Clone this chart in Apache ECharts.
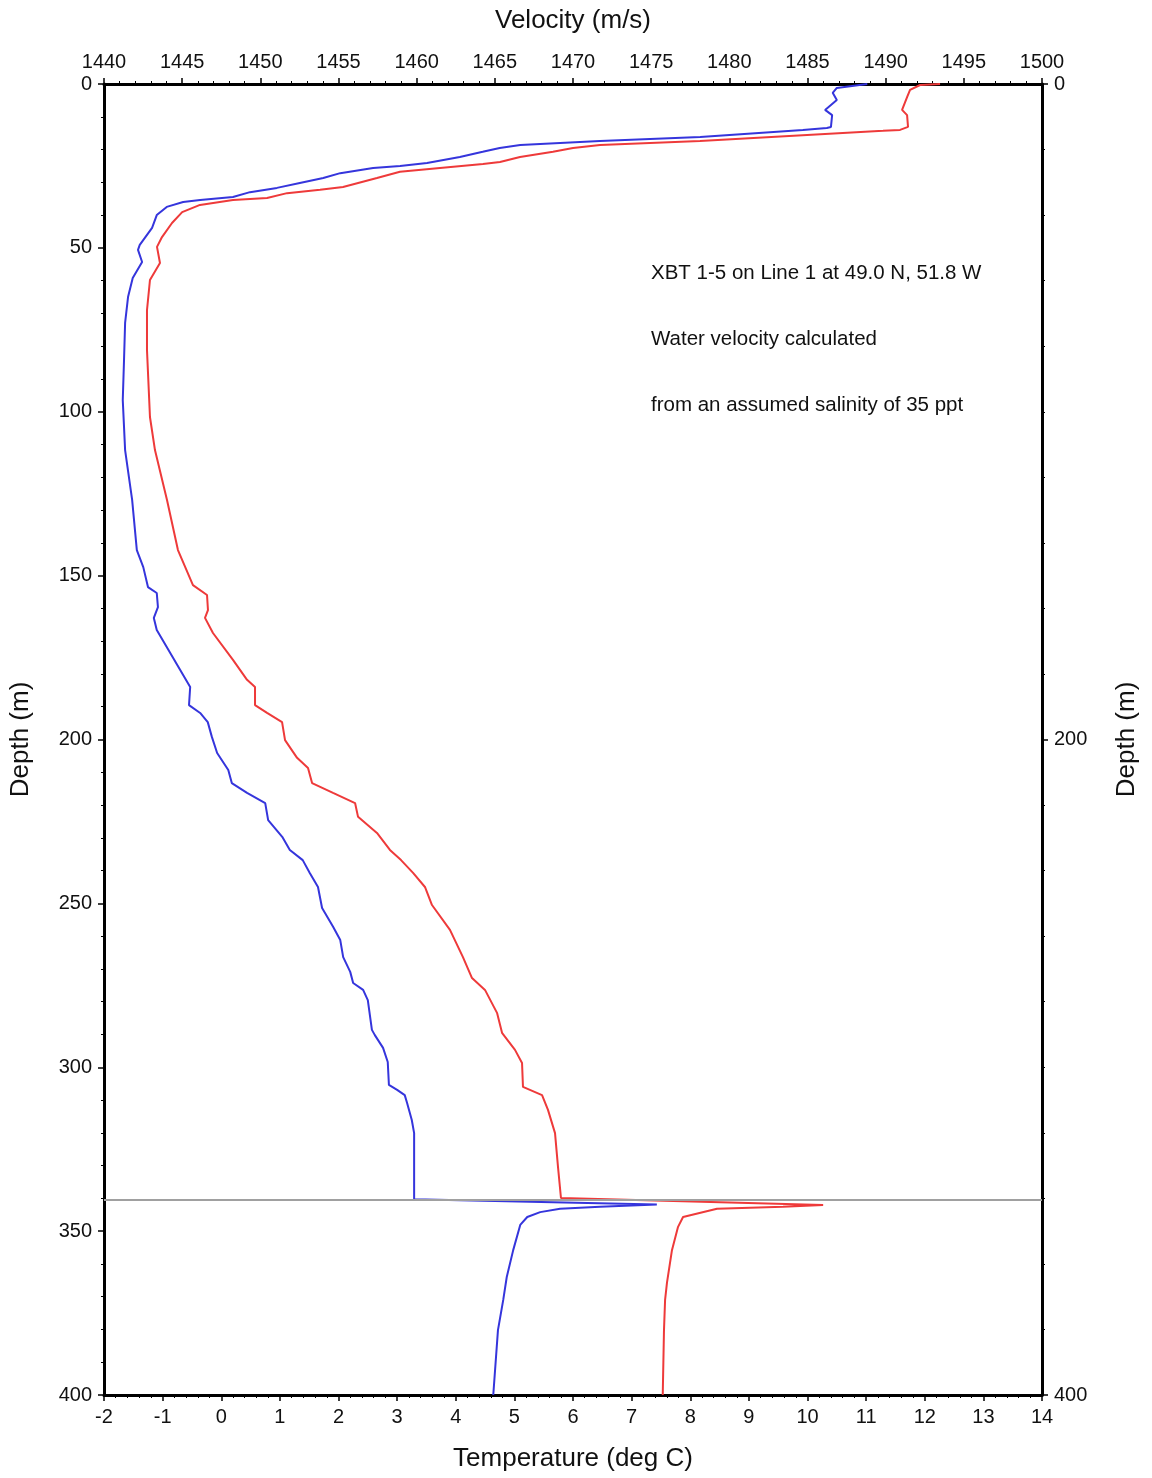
<!DOCTYPE html>
<html>
<head>
<meta charset="utf-8">
<title>XBT 1-5</title>
<script src="https://cdn.jsdelivr.net/npm/echarts@6/dist/echarts.min.js"></script>
<style>
  html, body { margin: 0; padding: 0; background: #fff; }
  #chart { width: 1152px; height: 1478px; }
</style>
</head>
<body>
<div id="chart"></div>
<script>
// temperature profile (blue, bottom axis)
const tempDepth = [0, 1.2, 2.7, 4.9, 7.9, 9.5, 13.1, 13.4, 14.0, 16.2, 17.4, 18.6, 19.5, 20.7, 22.3, 24.1, 25.0, 25.6,
  27.2, 28.7, 30.2, 31.7, 33.0, 34.5, 35.4, 36.0, 37.5, 40.0, 43.9, 49.1, 50.6, 54.3, 59.2, 65.0, 72.9, 85.1, 96.4,
  111.7, 126.9, 142.2, 147.4, 153.5, 155.3, 159.6, 162.9, 166.6, 173.6, 178.8, 184.0, 189.5, 191.9, 194.7, 199.2,
  204.1, 209.3, 213.3, 216.3, 219.4, 224.6, 229.7, 233.7, 236.8, 240.7, 245.0, 251.4, 257.2, 261.2, 266.4, 270.9,
  274.3, 276.4, 279.5, 288.6, 290.2, 294.1, 298.4, 305.4, 306.9, 308.5, 310.9, 316.1, 320.1, 327.4, 340.3, 341.9,
  342.6, 343.2, 344.2, 345.7, 348.1, 355.8, 364.0, 371.0, 380.2, 400]
const tempValues = [11.02, 10.50, 10.43, 10.50, 10.30, 10.42, 10.40, 10.33, 9.92, 8.17, 6.46, 5.10, 4.75, 4.46, 4.07, 3.51, 3.05, 2.59,
  2.03, 1.74, 1.34, 0.95, 0.49, 0.20, -0.36, -0.65, -0.93, -1.10, -1.18, -1.39, -1.42, -1.35, -1.51, -1.59, -1.64, -1.66, -1.68,
  -1.64, -1.52, -1.44, -1.33, -1.25, -1.10, -1.08, -1.15, -1.10, -0.87, -0.70, -0.53, -0.55, -0.36, -0.23, -0.16,
  -0.07, 0.12, 0.18, 0.44, 0.75, 0.80, 1.04, 1.17, 1.39, 1.51, 1.65, 1.72, 1.91, 2.03, 2.08, 2.20,
  2.25, 2.42, 2.50, 2.57, 2.62, 2.76, 2.84, 2.86, 3.00, 3.13, 3.17, 3.25, 3.29, 3.29, 3.29, 7.43,
  6.46, 5.78, 5.44, 5.22, 5.10, 4.98, 4.87, 4.81, 4.72, 4.64]

// sound velocity profile (red, top axis)
const velDepth = [0, 0.3, 1.8, 4.0, 7.9, 9.5, 13.1, 14.0, 14.3, 17.4, 18.6, 19.5, 20.7, 22.3, 23.8, 24.4, 25.6, 26.8,
  28.7, 31.4, 32.3, 33.3, 34.8, 35.4, 36.9, 39.1, 42.4, 46.7, 49.7, 54.6, 59.8, 69.0, 81.2, 101.6, 111.7, 126.9,
  142.2, 152.9, 155.9, 160.5, 162.9, 167.5, 175.7, 181.8, 184.0, 189.5, 191.9, 194.7, 200.2, 205.6, 208.7, 213.3,
  216.3, 219.4, 223.6, 228.5, 233.7, 236.8, 240.7, 245.0, 250.5, 258.1, 266.4, 272.8, 276.4, 283.4, 289.5, 294.7,
  298.7, 306.0, 308.5, 313.0, 320.1, 330.4, 339.9, 342.0, 342.6, 343.2, 345.7, 348.7, 355.8, 365.8, 371.0, 380.2, 400]
const velValues = [1493.48, 1492.2, 1491.56, 1491.37, 1491.05, 1491.37, 1491.43, 1490.92, 1489.83, 1478.12, 1471.73, 1470.0, 1468.72, 1466.61, 1465.33, 1464.24, 1461.49, 1458.93,
  1457.46, 1455.29, 1453.82, 1451.71, 1450.43, 1448.25, 1446.14, 1445.0, 1444.35, 1443.71, 1443.39, 1443.58, 1442.94, 1442.75, 1442.75, 1442.94, 1443.26, 1444.03,
  1444.73, 1445.69, 1446.59, 1446.65, 1446.46, 1446.97, 1448.25, 1449.15, 1449.66, 1449.66, 1450.43, 1451.39, 1451.58, 1452.35, 1453.05, 1453.31,
  1454.65, 1456.06, 1456.25, 1457.46, 1458.29, 1459.0, 1459.77, 1460.53, 1460.98, 1462.13, 1462.96, 1463.54, 1464.37, 1465.14, 1465.46, 1466.29,
  1466.74, 1466.80, 1468.02, 1468.40, 1468.85, 1469.04, 1469.23, 1486.0, 1483.43, 1479.21, 1477.04, 1476.72, 1476.33, 1476.01, 1475.89, 1475.82, 1475.74]

const launchDepth = 340.5
const notes = ['XBT 1-5 on Line 1 at 49.0 N, 51.8 W', 'Water velocity calculated', 'from an assumed salinity of 35 ppt']

const font = 'Arial, "Liberation Sans", sans-serif'
const chart = echarts.init(document.getElementById('chart'))

function baseAxis(extra) {
  return Object.assign({
    type: 'value',
    axisLine: { show: true, onZero: false, lineStyle: { color: '#000', width: 3 } },
    axisTick: { show: true, length: 6, lineStyle: { color: '#000', width: 1.5 } },
    minorTick: { show: true, splitNumber: 5, length: 3, lineStyle: { color: '#000', width: 1 } },
    splitLine: { show: false },
    minorSplitLine: { show: false },
    axisLabel: {
      color: '#111', fontSize: 20, fontFamily: font, margin: 12,
      showMinLabel: true, showMaxLabel: true,
      formatter: v => String(v)
    },
    nameLocation: 'middle',
    nameTextStyle: { color: '#111', fontSize: 26, fontFamily: font }
  }, extra)
}

const option = {
  animation: false,
  grid: { left: 104, right: 110, top: 84, bottom: 83, containLabel: false },
  xAxis: [
    baseAxis({ position: 'bottom', min: -2, max: 14, interval: 1, name: 'Temperature (deg C)', nameGap: 51 }),
    baseAxis({ position: 'top', min: 1440, max: 1500, interval: 5, name: 'Velocity (m/s)', nameGap: 50 })
  ],
  yAxis: [
    baseAxis({ position: 'left', inverse: true, min: 0, max: 400, interval: 50, name: 'Depth (m)', nameGap: 70, nameRotate: 90 }),
    baseAxis({ position: 'right', inverse: true, min: 0, max: 400, interval: 200, name: 'Depth (m)', nameGap: 72, nameRotate: 90,
      minorTick: { show: true, splitNumber: 10, length: 3, lineStyle: { color: '#000', width: 1 } } })
  ],
  graphic: notes.map((t, i) => ({
    type: 'text',
    x: 651,
    y: 273 + i * 66,
    style: { text: t, font: '20.5px ' + font, fill: '#111', verticalAlign: 'middle' }
  })),
  series: [
    {
      name: 'Temperature',
      type: 'line',
      xAxisIndex: 0,
      yAxisIndex: 0,
      showSymbol: false,
      lineStyle: { color: '#3535dc', width: 2 },
      data: tempDepth.map((d, i) => [tempValues[i], d]),
      markLine: {
        silent: true,
        symbol: 'none',
        label: { show: false },
        lineStyle: { color: '#a0a0a0', width: 2, type: 'solid' },
        data: [{ yAxis: launchDepth }]
      }
    },
    {
      name: 'Velocity',
      type: 'line',
      xAxisIndex: 1,
      yAxisIndex: 0,
      showSymbol: false,
      lineStyle: { color: '#ee3a3a', width: 2 },
      data: velDepth.map((d, i) => [velValues[i], d])
    }
  ]
}

chart.setOption(option)
</script>
</body>
</html>
